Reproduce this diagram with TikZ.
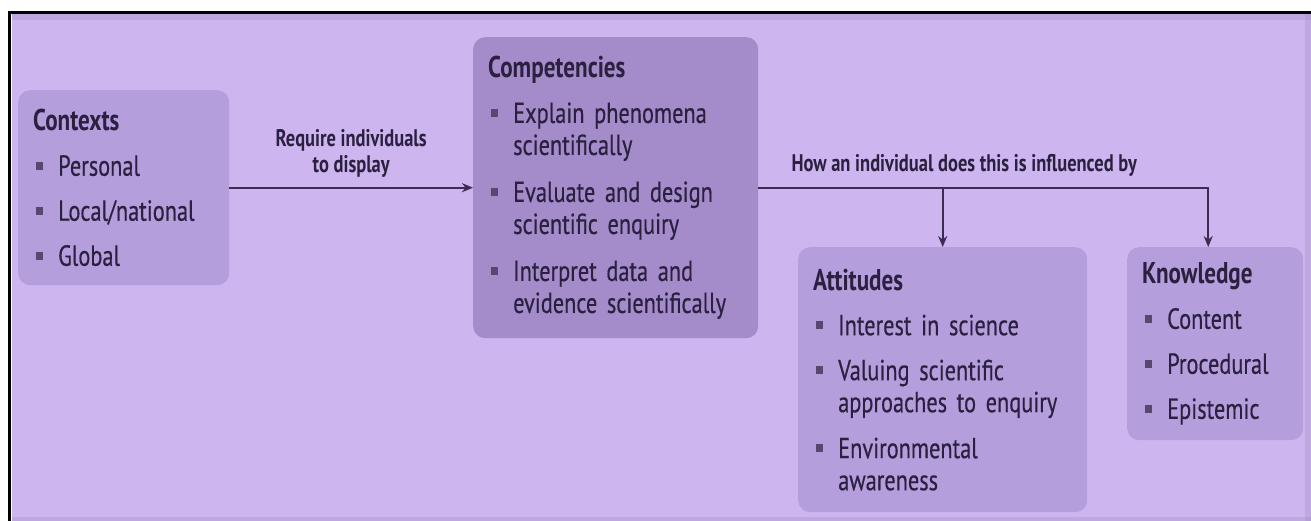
\documentclass[tikz,border=0pt]{standalone}
\usepackage{fontspec}
\setmainfont{PT Sans}[FakeStretch=0.77, UprightFeatures={FakeBold=0.4}]
\usetikzlibrary{arrows.meta,positioning}

\definecolor{panelcol}{HTML}{CDB5F0}
\definecolor{boxcol}{HTML}{B49EDB}
\definecolor{compcol}{HTML}{A48CCB}
\definecolor{inkcol}{HTML}{2B2040}
\definecolor{bulletcol}{HTML}{574870}
\definecolor{linecol}{HTML}{3A2C52}

\newcommand{\bul}{\hspace*{3pt}\makebox[22pt][l]{\textcolor{bulletcol}{\rule[6pt]{7pt}{8pt}}}}
\newcommand{\cont}{\hspace*{25pt}}
\newcommand{\head}[1]{{\fontsize{30}{32}\selectfont\bfseries #1}}

\tikzset{
  sbox/.style={rounded corners=12pt, fill=boxcol, text=inkcol, align=left,
    inner xsep=15pt, inner ysep=0pt, font=\fontsize{29}{32}\selectfont},
  conn/.style={draw=linecol, line width=2pt, -{Stealth[length=11pt,width=9pt]}},
  lbl/.style={text=inkcol, font=\fontsize{24}{26}\selectfont\bfseries, align=center}
}

\begin{document}
\begin{tikzpicture}[x=1pt,y=-1pt]
  % frame
  \fill[white] (0,0) rectangle (1311,521);
  \fill[panelcol] (12,14) rectangle (1311,521);
  \fill[black] (8,11) rectangle (1311,14);
  \fill[black] (8,11) rectangle (11,521);
  \fill[panelcol!80!black, opacity=0.35] (12,14) rectangle (1311,20);
  \fill[panelcol!80!black, opacity=0.35] (1305,14) rectangle (1311,521);
  \fill[panelcol!80!black, opacity=0.35] (12,517) rectangle (1311,521);
  \useasboundingbox (0,0) rectangle (1311,521);

  % boxes
  \node[sbox, minimum width=211pt, minimum height=195pt, text width=181pt,
    anchor=north west] (ctx) at (18,90)
    {\head{Contexts}\\[13pt]
     \bul Personal\\[13pt]
     \bul Local/national\\[13pt]
     \bul Global};
  \node[sbox, fill=compcol, minimum width=285pt, minimum height=301pt, text width=255pt,
    anchor=north west] (comp) at (473,37)
    {\head{Competencies}\\[13pt]
     \bul Explain phenomena\\
     \cont scientifically\\[15pt]
     \bul Evaluate and design\\
     \cont scientific enquiry\\[15pt]
     \bul Interpret data and\\
     \cont evidence scientifically};
  \node[sbox, minimum width=289pt, minimum height=265pt, text width=259pt,
    anchor=north west] (att) at (798,247)
    {\head{Attitudes}\\[13pt]
     \bul Interest in science\\[13pt]
     \bul Valuing scientific\\
     \cont approaches to enquiry\\[14pt]
     \bul Environmental\\
     \cont awareness};
  \node[sbox, minimum width=176pt, minimum height=193pt, text width=146pt,
    anchor=north west] (know) at (1127,247)
    {\head{Knowledge}\\[13pt]
     \bul Content\\[13pt]
     \bul Procedural\\[13pt]
     \bul Epistemic};

  % connectors
  \draw[conn] (ctx) -- node[lbl, above=6pt] (lblreq) {Require individuals\\to display} (comp);
  \draw[conn] (comp.east) -| ([xshift=-7pt]know.north);
  \draw[conn] (att.north |- comp.east) -- (att.north);
  \node[lbl, anchor=base west] (lblinf) at (788,172) {How an individual does this is influenced by};
\end{tikzpicture}
\end{document}
